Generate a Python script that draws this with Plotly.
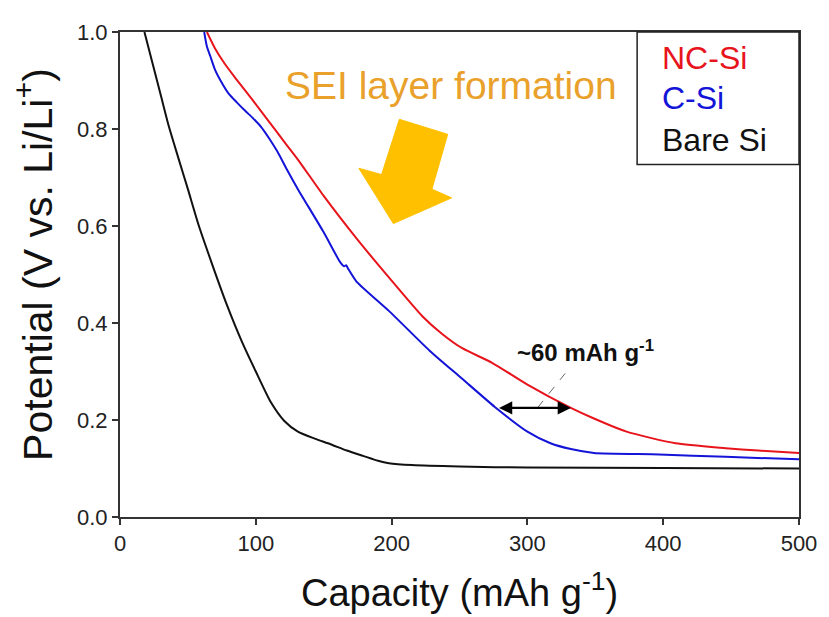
import plotly.graph_objects as go

# ---- data ----
bare_cap = [18, 24, 30, 36, 43, 50, 58, 68, 78.5, 90, 100, 111, 121, 131, 143, 155, 167, 179, 190, 198, 215, 250, 300, 400, 500]
bare_v = [1.0, 0.935, 0.87, 0.805, 0.74, 0.676, 0.601, 0.52, 0.439, 0.36, 0.3, 0.237, 0.198, 0.176, 0.162, 0.150, 0.137, 0.126, 0.116, 0.111, 0.107, 0.104, 0.102, 0.101, 0.1]

csi_cap = [62, 64, 66.5, 70, 74, 80, 86, 92, 98, 104, 110, 116, 123, 131, 150, 162, 165, 166.5, 168, 174, 198, 228, 252, 276, 300, 317, 332, 349, 397, 446, 500]
csi_v = [1.0, 0.97, 0.95, 0.922, 0.9, 0.873, 0.855, 0.838, 0.822, 0.804, 0.78, 0.753, 0.716, 0.676, 0.587, 0.526, 0.517, 0.519, 0.512, 0.486, 0.425, 0.343, 0.285, 0.227, 0.176, 0.152, 0.140, 0.132, 0.129, 0.124, 0.119]

ncsi_cap = [64, 70, 77, 85, 97, 109, 120, 131, 150, 174, 198, 223, 237, 252, 274, 300, 332, 349, 373, 409, 446, 470, 500]
ncsi_v = [1.0, 0.966, 0.935, 0.905, 0.862, 0.818, 0.777, 0.737, 0.662, 0.575, 0.494, 0.413, 0.378, 0.348, 0.318, 0.273, 0.225, 0.203, 0.176, 0.152, 0.142, 0.137, 0.132]

x_ticks = [0, 100, 200, 300, 400, 500]
y_ticks = [0.0, 0.2, 0.4, 0.6, 0.8, 1.0]

series_names = ["NC-Si", "C-Si", "Bare Si"]
series_colors = ["#E8141C", "#1414D8", "#111111"]

# big arrow outline (capacity, potential)
arrow_cap = [205.7, 241.3, 229.7, 244.2, 201.3, 175.9, 192.6]
arrow_v = [0.820, 0.789, 0.676, 0.658, 0.605, 0.719, 0.706]

FONT = "Arial, Liberation Sans, sans-serif"

fig = go.Figure()
for name, color, xs, ys in zip(series_names, series_colors,
                               [ncsi_cap, csi_cap, bare_cap],
                               [ncsi_v, csi_v, bare_v]):
    fig.add_trace(go.Scatter(x=xs, y=ys, mode="lines", name=name,
                             line=dict(color=color, width=2, shape="spline", smoothing=0.6),
                             showlegend=False))

path = "M " + " L ".join(f"{c},{v}" for c, v in zip(arrow_cap, arrow_v)) + " Z"
shapes = [
    dict(type="path", path=path, xref="x", yref="y", fillcolor="#FFC000",
         line=dict(color="#FFC000", width=1), layer="above"),
    # legend box
    dict(type="rect", xref="paper", yref="paper", x0=0.7616, x1=1.0, y0=0.7267, y1=1.0,
         line=dict(color="#222222", width=1.5), fillcolor="rgba(0,0,0,0)"),
    # dashed leader line
    dict(type="line", xref="x", yref="y", x0=307.4, y0=0.225, x1=327.8, y1=0.296,
         line=dict(color="#666666", width=1, dash="dash")),
]

annotations = [
    dict(text="SEI layer formation", x=244, y=0.889, xref="x", yref="y", showarrow=False,
         font=dict(family=FONT, size=39, color="#E9A12B")),
    dict(text="<b>~60 mAh g<sup>-1</sup></b>", x=343, y=0.342, xref="x", yref="y", showarrow=False,
         font=dict(family=FONT, size=24, color="#111111")),
    # double-headed arrow
    dict(x=332, y=0.225, ax=278, ay=0.225, xref="x", yref="y", axref="x", ayref="y",
         text="", showarrow=True, arrowhead=2, startarrowhead=2, arrowside="end+start",
         arrowsize=1.2, startarrowsize=1.2, arrowwidth=2.2, arrowcolor="#000000"),
    # axis titles
    dict(text="Capacity (mAh g<sup>-1</sup>)", x=0.5, y=-0.1498, xref="paper", yref="paper",
         xanchor="center", yanchor="middle", showarrow=False,
         font=dict(family=FONT, size=38, color="#111111")),
    dict(text="Potential (V vs. Li/Li<sup>+</sup>)", x=-0.1265, y=0.52, xref="paper", yref="paper",
         xanchor="center", yanchor="middle", textangle=-90, showarrow=False,
         font=dict(family=FONT, size=41, color="#111111")),
]
leg_y = [0.947, 0.864, 0.777]
for name, color, yy in zip(series_names, series_colors, leg_y):
    annotations.append(dict(text=name, x=0.795, y=yy, xref="paper", yref="paper",
                            xanchor="left", yanchor="middle", showarrow=False,
                            font=dict(family=FONT, size=32, color=color)))

# the page body adds an 8px offset, so the figure is 8px smaller and shifted
fig.update_layout(
    width=821, height=609,
    margin=dict(l=112, r=21, t=15, b=100),
    paper_bgcolor="white", plot_bgcolor="white",
    font=dict(family=FONT, color="#222222"),
    shapes=shapes, annotations=annotations,
)
fig.update_xaxes(range=[0, 500], tickvals=x_ticks, ticktext=[str(t) for t in x_ticks],
                 showline=True, linecolor="#333333", linewidth=2, mirror=True,
                 ticks="outside", ticklen=6, tickwidth=1.5, tickcolor="#333333",
                 showgrid=False, zeroline=False,
                 tickfont=dict(family=FONT, size=22, color="#222222"))
fig.update_yaxes(range=[0, 1.0], tickvals=y_ticks, ticktext=[f"{t:.1f}" for t in y_ticks],
                 showline=True, linecolor="#333333", linewidth=2, mirror=True,
                 ticks="outside", ticklen=6, tickwidth=1.5, tickcolor="#333333",
                 showgrid=False, zeroline=False,
                 tickfont=dict(family=FONT, size=22, color="#222222"))

fig.write_html("out.html")
